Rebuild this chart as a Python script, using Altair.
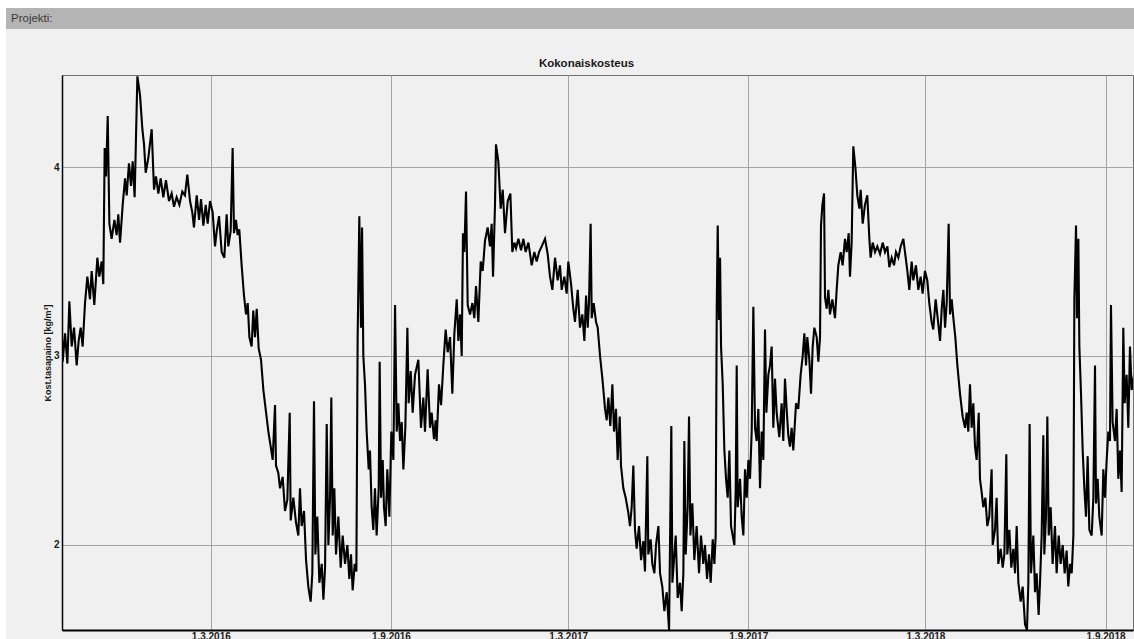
import altair as alt
import pandas as pd

START = pd.Timestamp("2015-10-01")

# Total moisture content, kg/m3; time as days since 1.10.2015
days_2016 = [0.0, 0.7, 3.1, 5.5, 7.5, 9.9, 12.3, 15.0, 17.0, 19.1, 21.1, 23.5, 25.9, 28.6, 30.3, 33.0,
             36.1, 38.1, 40.5, 42.2, 43.6, 45.0, 46.7, 48.4, 50.7, 53.5, 55.8, 57.5, 59.3, 62.0, 64.4,
             66.1, 68.4, 70.5, 72.2, 74.2, 77.0, 79.7, 82.1, 83.8, 85.5, 88.2, 91.6, 94.0, 96.0, 98.4,
             100.8, 103.5, 106.2, 109.3, 112.0, 114.4, 117.1, 119.9, 122.9, 125.6, 128.0, 130.8, 133.1,
             134.8, 137.6, 140.0, 142.0, 144.4, 146.8, 148.8, 151.2, 153.9, 156.3, 158.0, 160.4, 163.1,
             165.8, 168.2, 169.9, 172.3, 174.3, 175.7, 177.7, 179.4, 181.1, 183.5, 185.9, 188.0, 189.7,
             191.4, 193.7, 195.4, 197.2, 198.9, 200.9, 203.3, 205.7, 208.0, 210.8, 213.2, 215.2, 217.6,
             218.6, 221.0, 222.7, 225.4, 227.8, 230.2, 232.6, 233.6, 236.3, 239.0, 241.4, 243.1, 244.8,
             247.2, 249.3, 251.6, 254.0, 255.7, 257.4, 258.8, 260.8, 262.9, 265.3, 267.0, 268.7, 270.4,
             272.1, 273.8, 275.1, 276.5, 278.2, 279.9, 282.3, 284.7, 286.7, 289.1, 291.5, 293.5, 295.2,
             296.9, 299.0, 300.7, 302.0, 303.7, 305.4, 306.5, 307.8, 309.5, 311.2, 313.3, 314.6, 316.3,
             318.0, 319.7, 321.4, 323.5, 324.5, 325.9, 327.6, 328.9, 330.6, 332.3, 334.4, 336.4, 338.5,
             340.2, 341.9, 343.6, 345.3, 347.0, 348.7, 350.7, 352.8, 354.1, 356.2, 358.2]
vals_2016 = [3.10, 2.97, 3.12, 2.96, 3.29, 3.05, 3.15, 2.95, 3.08, 3.15, 3.05, 3.28, 3.42, 3.30, 3.45, 3.27,
             3.52, 3.42, 3.50, 3.38, 4.10, 3.95, 4.27, 3.70, 3.62, 3.72, 3.64, 3.75, 3.60, 3.80, 3.94,
             3.85, 4.02, 3.90, 4.03, 3.84, 4.48, 4.38, 4.20, 4.12, 3.97, 4.05, 4.20, 3.88, 3.95, 3.86,
             3.94, 3.84, 3.93, 3.82, 3.86, 3.79, 3.84, 3.80, 3.87, 3.85, 3.96, 3.82, 3.76,
             3.68, 3.85, 3.72, 3.83, 3.69, 3.80, 3.70, 3.82, 3.76, 3.58, 3.66, 3.74, 3.55,
             3.52, 3.75, 3.58, 3.66, 4.10, 3.65, 3.72, 3.64, 3.67, 3.48, 3.32, 3.22, 3.28,
             3.10, 3.05, 3.24, 3.10, 3.25, 3.04, 2.98, 2.82, 2.72, 2.60, 2.52, 2.45, 2.74,
             2.42, 2.38, 2.30, 2.36, 2.18, 2.24, 2.70, 2.13, 2.25, 2.12, 2.05, 2.30, 2.10,
             2.18, 1.92, 1.78, 1.70, 1.85, 2.76, 1.95, 2.15, 1.80, 1.90, 1.71, 1.88, 2.64,
             2.00, 2.25, 2.78, 2.05, 2.30, 1.95, 2.15, 1.88, 2.05, 1.90, 2.00, 1.82, 1.95,
             1.76, 1.90, 1.86, 3.10, 3.74, 3.15, 3.68, 3.00, 2.85, 2.60, 2.40, 2.50, 2.20,
             2.08, 2.30, 2.05, 2.30, 2.97, 2.25, 2.45, 2.20, 2.10, 2.40, 2.15, 2.60, 2.45,
             3.27, 2.60, 2.75, 2.55, 2.65, 2.40, 2.62, 3.15, 2.75, 2.92, 2.70]

days_2017 = [360.6, 364.0, 366.7, 369.1, 370.8, 373.5, 375.9, 377.6, 380.0, 381.7, 382.7, 385.1, 387.2,
             389.5, 391.9, 394.0, 396.4, 398.7, 400.8, 403.2, 404.9, 406.6, 408.3, 409.6, 411.0, 412.7,
             414.4, 416.8, 419.2, 421.2, 422.9, 425.3, 427.7, 429.7, 432.1, 434.8, 437.2, 438.9, 440.3,
             442.3, 443.3, 445.7, 448.1, 450.2, 452.5, 455.3, 458.0, 460.0, 462.1, 463.8, 466.2, 468.9,
             471.3, 473.6, 476.4, 479.8, 482.5, 484.9, 487.3, 490.0, 493.4, 496.1, 498.5, 500.9, 503.6,
             506.3, 508.7, 510.4, 513.1, 515.5, 517.2, 520.0, 522.3, 524.0, 526.8, 529.1, 531.5, 533.6,
             535.3, 537.0, 538.3, 540.0, 541.1, 543.1, 545.5, 547.2, 549.6, 552.0, 554.7, 556.4, 558.1,
             560.1, 562.2, 563.9, 565.9, 567.6, 569.7, 571.0, 573.4, 575.8, 578.5, 580.2, 581.9, 583.6,
             585.3, 587.0, 589.4, 591.5, 593.8, 595.5, 597.9, 598.9, 601.3, 603.0, 605.1, 606.8, 609.2,
             610.9, 613.2, 615.3, 617.7, 620.1, 622.4, 623.5, 625.5, 626.9, 628.9, 631.3, 633.0, 634.7,
             635.7, 637.1, 639.1, 640.5, 641.9, 643.9, 645.9, 648.3, 650.7, 652.7, 655.1, 656.8, 658.9,
             660.9, 662.6, 664.7, 666.4, 667.7, 668.8, 669.8, 671.1, 672.2, 673.2, 674.9, 676.6, 678.3,
             680.0, 681.7, 683.4, 685.1, 686.8, 688.2, 689.2, 690.2, 692.6, 694.3, 696.0, 697.7, 699.4,
             701.1, 702.8, 704.5, 706.2, 707.9, 709.6, 711.3, 713.0, 714.7, 716.4, 718.1, 719.5, 721.5]
vals_2017 = [2.90, 2.98, 2.62, 2.78, 2.60, 2.93, 2.62, 2.70, 2.56, 2.66, 2.55, 2.85, 2.74,
             2.95, 3.14, 3.02, 3.10, 2.80, 3.12, 3.30, 3.08, 3.22, 3.00, 3.65, 3.55, 3.87,
             3.27, 3.22, 3.28, 3.20, 3.37, 3.18, 3.50, 3.45, 3.61, 3.68, 3.58, 3.70, 3.42,
             3.80, 4.12, 4.03, 3.78, 3.88, 3.65, 3.82, 3.86, 3.55, 3.60, 3.57, 3.62, 3.56,
             3.62, 3.55, 3.60, 3.48, 3.55, 3.50, 3.55, 3.58, 3.62, 3.54, 3.42, 3.35, 3.52,
             3.40, 3.48, 3.35, 3.42, 3.33, 3.50, 3.38, 3.25, 3.18, 3.35, 3.15, 3.22, 3.08,
             3.32, 3.15, 3.28, 3.70, 3.20, 3.28, 3.18, 3.15, 3.00, 2.88, 2.72, 2.66, 2.78,
             2.63, 2.85, 2.60, 2.72, 2.45, 2.68, 2.42, 2.30, 2.25, 2.17, 2.10, 2.20, 2.42,
             2.08, 1.98, 2.10, 1.92, 2.02, 1.86, 2.47, 1.95, 2.03, 1.90, 1.85, 2.00, 2.10,
             1.85, 1.78, 1.65, 1.75, 1.55, 2.63, 1.80, 1.95, 2.05, 1.72, 1.80, 1.65, 1.85,
             2.55, 1.95, 2.20, 2.68, 2.05, 2.22, 1.92, 2.10, 1.85, 2.05, 1.90, 2.00, 1.82,
             1.95, 1.80, 2.03, 1.90, 2.05, 3.25, 3.69, 3.19, 3.52, 3.05, 2.85, 2.50, 2.35,
             2.25, 2.50, 2.10, 2.05, 2.00, 2.30, 2.95, 2.20, 2.35, 2.15, 2.05, 2.40, 2.25,
             2.45, 2.35, 2.60, 3.26, 2.62, 2.55, 2.72, 2.30, 2.60, 2.45, 3.14, 2.70, 2.90]

days_2018 = [723.2, 724.9, 726.6, 728.3, 730.0, 732.7, 735.1, 736.8, 738.5, 740.2, 741.9, 743.6, 745.3,
             747.0, 749.8, 752.1, 754.5, 756.6, 758.3, 760.0, 761.3, 763.4, 765.1, 766.8, 768.5, 770.9,
             772.6, 774.3, 775.3, 776.7, 778.4, 779.4, 781.1, 782.8, 784.5, 786.9, 789.6, 791.3, 793.0,
             795.4, 797.4, 799.8, 801.5, 803.6, 804.9, 806.6, 808.3, 810.4, 812.4, 814.5, 815.8, 817.9,
             820.2, 822.6, 824.7, 826.0, 828.1, 830.5, 832.8, 835.6, 838.3, 840.7, 843.1, 845.1, 847.5,
             849.9, 851.9, 854.3, 856.7, 859.4, 861.1, 863.5, 865.5, 867.9, 869.6, 872.3, 874.7, 877.1,
             879.1, 881.5, 883.9, 885.9, 888.3, 890.0, 892.4, 894.5, 896.9, 898.6, 900.3, 902.0, 903.7,
             905.7, 907.1, 908.8, 910.5, 912.5, 914.6, 917.3, 920.0, 922.4, 924.1, 925.8, 927.5, 929.2,
             930.9, 932.6, 934.3, 936.4, 937.7, 939.4, 941.1, 943.2, 945.2, 947.2, 949.6, 950.7, 953.0,
             954.7, 956.4, 958.8, 960.9, 962.6, 964.6, 965.6, 967.7, 969.7, 971.8, 973.5, 975.2, 976.9,
             979.3, 981.3, 983.7, 985.7, 987.1, 988.4, 989.8, 992.2, 993.9, 995.6, 997.6, 999.0, 1000.7,
             1002.4, 1003.4, 1005.1, 1006.5, 1007.9, 1009.9, 1011.9, 1014.3, 1016.0, 1018.1, 1020.1,
             1022.2, 1024.2, 1026.2, 1027.9, 1029.7, 1031.4, 1033.1, 1034.1, 1035.8, 1036.8, 1038.2,
             1039.2, 1040.9, 1042.6, 1044.3, 1046.0, 1047.7, 1049.4, 1051.8, 1053.5, 1055.2, 1056.2,
             1057.9, 1059.6, 1062.0, 1063.7, 1065.4, 1067.1, 1068.8, 1070.5, 1071.5, 1073.2, 1075.6,
             1077.3, 1079.0, 1080.7, 1082.4, 1084.1, 1085.5, 1087.5, 1089.2, 1090.9, 1092.6, 1095.0]
vals_2018 = [2.95, 3.05, 2.62, 2.88, 2.70, 2.57, 2.75, 2.55, 2.88, 2.72, 2.58, 2.52, 2.62,
             2.50, 2.75, 2.72, 2.90, 3.00, 3.12, 2.95, 3.10, 2.98, 2.80, 3.05, 3.15, 3.10,
             2.97, 3.10, 3.69, 3.80, 3.86, 3.31, 3.25, 3.35, 3.22, 3.30, 3.20, 3.35, 3.48,
             3.55, 3.48, 3.62, 3.55, 3.65, 3.42, 3.60, 4.11, 4.00, 3.85, 3.78, 3.88, 3.70,
             3.80, 3.85, 3.62, 3.52, 3.60, 3.55, 3.58, 3.54, 3.60, 3.55, 3.58, 3.47, 3.52,
             3.48, 3.55, 3.52, 3.58, 3.62, 3.55, 3.45, 3.35, 3.50, 3.40, 3.48, 3.35, 3.42,
             3.33, 3.45, 3.40, 3.28, 3.18, 3.14, 3.30, 3.20, 3.08, 3.25, 3.35, 3.15, 3.28,
             3.70, 3.22, 3.30, 3.20, 3.10, 2.95, 2.80, 2.68, 2.62, 2.70, 2.60, 2.85, 2.62,
             2.75, 2.52, 2.45, 2.70, 2.35, 2.28, 2.20, 2.25, 2.10, 2.15, 2.40, 2.00, 2.08,
             2.25, 1.90, 1.98, 1.88, 1.95, 2.48, 1.95, 2.08, 1.88, 1.98, 1.85, 2.10, 1.80,
             1.70, 1.78, 1.58, 1.55, 1.80, 2.64, 1.85, 2.05, 1.75, 1.85, 1.63, 1.80, 2.05,
             2.58, 1.95, 2.15, 2.68, 2.05, 2.20, 1.90, 2.10, 1.85, 2.05, 1.90,
             2.00, 1.85, 1.97, 1.78, 1.90, 1.85, 2.05, 3.30, 3.69, 3.20, 3.62,
             3.05, 2.80, 2.50, 2.30, 2.15, 2.47, 2.08, 2.05, 2.25, 2.95, 2.22,
             2.35, 2.15, 2.05, 2.40, 2.25, 2.45, 2.60, 2.55, 3.27, 2.65, 2.55,
             2.72, 2.35, 2.50, 2.28, 3.15, 2.75, 2.90, 2.62, 3.05, 2.82, 2.90]

tick_dates = [(2016, 3), (2016, 9), (2017, 3), (2017, 9), (2018, 3), (2018, 9)]
y_ticks = [2, 3, 4]

days = days_2016 + days_2017 + days_2018
vals = vals_2016 + vals_2017 + vals_2018
df = pd.DataFrame({
    "aika": START + pd.to_timedelta(days, unit="D"),
    "kosteus": vals,
    "n": list(range(len(days))),
})

W, H = 1071, 555
one = pd.DataFrame({"a": [0]})

x_axis = alt.Axis(
    values=[alt.DateTime(year=y, month=m, date=1) for y, m in tick_dates],
    format="%-d.%-m.%Y", formatType="time", title=None,
    grid=True, gridColor="#a4a4a4", gridWidth=1,
    ticks=False, labelPadding=1, labelFlush=False,
    labelFont="Liberation Sans", labelFontSize=10, labelFontWeight="bold", labelColor="#1a1a1a",
    domainColor="#000000", domainWidth=2,
)
y_axis = alt.Axis(
    values=y_ticks, title="Kost.tasapaino [kg/m³]",
    grid=True, gridColor="#a4a4a4", gridWidth=1,
    ticks=False, labelPadding=3, labelFlush=False,
    labelFont="Liberation Sans", labelFontSize=10, labelFontWeight="bold", labelColor="#1a1a1a",
    domainColor="#000000", domainWidth=1.5,
    titleFont="Liberation Sans", titleFontSize=9, titleFontWeight="bold", titleColor="#1a1a1a",
    titleAngle=270, titleX=-14.5, titleY=H / 2, titleAlign="center", titleBaseline="middle",
)

line = alt.Chart(df).mark_line(color="#000000", strokeWidth=2.1, clip=True).encode(
    x=alt.X("aika:T", axis=x_axis,
            scale=alt.Scale(domain=[alt.DateTime(year=2015, month=10, date=1),
                                    alt.DateTime(year=2018, month=9, date=29)])),
    y=alt.Y("kosteus:Q", axis=y_axis,
            scale=alt.Scale(domain=[1.55, 4.487], nice=False, zero=False)),
    order=alt.Order("n:Q"),
)

# page frame: white margins and the grey header strip
left_strip = alt.Chart(one).mark_rect(color="#ffffff").encode(
    x=alt.value(-62), x2=alt.value(-56), y=alt.value(-75), y2=alt.value(H + 9))
top_strip = alt.Chart(one).mark_rect(color="#ffffff").encode(
    x=alt.value(-62), x2=alt.value(W + 1), y=alt.value(-75), y2=alt.value(-67))
header = alt.Chart(one).mark_rect(color="#b4b4b4").encode(
    x=alt.value(-56), x2=alt.value(W + 1), y=alt.value(-67), y2=alt.value(-46))
header_text = alt.Chart(one).mark_text(
    text="Projekti:", align="left", baseline="middle",
    font="Liberation Sans", fontSize=11.5, color="#3a3a3a",
).encode(x=alt.value(-51), y=alt.value(-56.5))
title_text = alt.Chart(one).mark_text(
    text="Kokonaiskosteus", align="center", baseline="alphabetic",
    font="Liberation Sans", fontSize=11.5, fontWeight="bold", color="#1a1a1a",
).encode(x=alt.value(524.5), y=alt.value(-8))

chart = alt.layer(left_strip, top_strip, header, header_text, title_text, line).properties(
    width=W, height=H,
    padding={"left": 62, "top": 75, "right": 1, "bottom": 9},
    autosize=alt.AutoSizeParams(type="none"),
    background="#f0f0f0",
).configure_view(stroke="#707070", strokeWidth=1)

chart.save("out.html", embed_options={"renderer": "svg", "actions": False})
